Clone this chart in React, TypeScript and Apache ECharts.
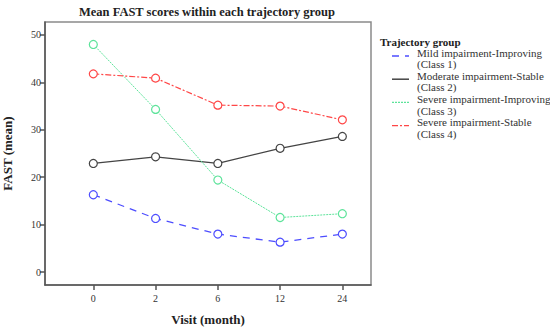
import React, { useEffect, useRef } from "react";
import * as echarts from "echarts";

const visits = ["0", "2", "6", "12", "24"];
const seriesNames = [
  "Mild impairment-Improving",
  "Moderate impairment-Stable",
  "Severe impairment-Improving",
  "Severe impairment-Stable",
];
const classLabels = ["(Class 1)", "(Class 2)", "(Class 3)", "(Class 4)"];
const class1 = [16.3, 11.3, 8.0, 6.3, 8.0];
const class2 = [22.9, 24.3, 22.9, 26.1, 28.6];
const class3 = [48.0, 34.3, 19.4, 11.5, 12.3];
const class4 = [41.8, 40.9, 35.2, 35.0, 32.1];
const yTicks = [0, 10, 20, 30, 40, 50];

const FONT = "'Liberation Serif', 'Times New Roman', serif";

export default function App() {
  const ref = useRef<HTMLDivElement>(null);
  useEffect(() => {
    document.body.style.margin = "0";
    if (!ref.current) return;
    const chart = echarts.init(ref.current, undefined, { renderer: "svg" });
    const values = [class1, class2, class3, class4];
    const colors = ["#4d4dff", "#444444", "#5de39a", "#ff4747"];
    const dashes: any[] = [[7, 6], "solid", [2, 1], [6, 2, 2, 2]];
    const widths = [1.3, 1.3, 1, 1.2];
    const idx = visits.map((_, i) => i);

    const series = values.map((vals, s) => ({
      type: "line",
      name: seriesNames[s],
      data: vals.map((v, i) => [i, v]),
      symbol: "circle",
      symbolSize: 8,
      itemStyle: { color: "#fff", borderColor: colors[s], borderWidth: 1.2 },
      lineStyle: { color: colors[s], type: dashes[s], width: widths[s] },
      emphasis: { disabled: true },
      z: 3,
    }));

    const graphics: any[] = [
      {
        type: "text",
        x: 207,
        y: 5,
        style: {
          text: "Mean FAST scores within each trajectory group",
          fontFamily: FONT,
          fontWeight: "bold",
          fontSize: 12.5,
          fill: "#222",
          align: "center",
          verticalAlign: "top",
        },
      },
      {
        type: "text",
        x: 380,
        y: 36,
        style: {
          text: "Trajectory group",
          fontFamily: FONT,
          fontWeight: "bold",
          fontSize: 11,
          fill: "#222",
          verticalAlign: "top",
        },
      },
    ];
    seriesNames.forEach((n, s) => {
      const y0 = 47 + s * 23.2;
      graphics.push({
        type: "line",
        shape: { x1: 392, y1: y0 + 9, x2: 409, y2: y0 + 9 },
        style: {
          stroke: colors[s],
          lineWidth: widths[s] + 0.2,
          lineDash: dashes[s] === "solid" ? null : dashes[s],
        },
      });
      graphics.push({
        type: "text",
        x: 417,
        y: y0,
        style: {
          text: n + "\n" + classLabels[s],
          fontFamily: FONT,
          fontSize: 11,
          lineHeight: 11.5,
          fill: "#333",
          verticalAlign: "top",
        },
      });
    });

    chart.setOption({
      animation: false,
      grid: {
        left: 45,
        right: 179,
        top: 22,
        bottom: 43,
        show: true,
        borderColor: "#8a8a8a",
        borderWidth: 1.5,
        outerBoundsMode: "none",
        containLabel: false,
      },
      xAxis: {
        type: "value",
        min: -0.776,
        max: 4.46,
        name: "Visit (month)",
        nameLocation: "middle",
        nameGap: 28,
        nameTextStyle: { fontFamily: FONT, fontWeight: "bold", fontSize: 13, color: "#222" },
        axisLine: { show: true, onZero: false, lineStyle: { color: "#555", width: 1.5 } },
        axisTick: { show: true, customValues: idx, length: 5, lineStyle: { color: "#555", width: 1.5 } },
        axisLabel: {
          customValues: idx,
          formatter: (v: number) => visits[Math.round(v)],
          fontFamily: FONT,
          fontSize: 10,
          color: "#333",
          margin: 8,
        },
        splitLine: { show: false },
      },
      yAxis: {
        type: "value",
        min: -2.74,
        max: 52.74,
        name: "FAST (mean)",
        nameLocation: "middle",
        nameGap: 31,
        nameTextStyle: { fontFamily: FONT, fontWeight: "bold", fontSize: 13, color: "#222" },
        axisLine: { show: true, onZero: false, lineStyle: { color: "#555", width: 1.5 } },
        axisTick: { show: true, customValues: yTicks, length: 5, lineStyle: { color: "#555", width: 1.5 } },
        axisLabel: {
          customValues: yTicks,
          fontFamily: FONT,
          fontSize: 10,
          color: "#333",
          margin: 4,
        },
        splitLine: { show: false },
      },
      graphic: graphics,
      series,
    });
    return () => chart.dispose();
  }, []);
  return <div ref={ref} style={{ width: 550, height: 328 }} />;
}
